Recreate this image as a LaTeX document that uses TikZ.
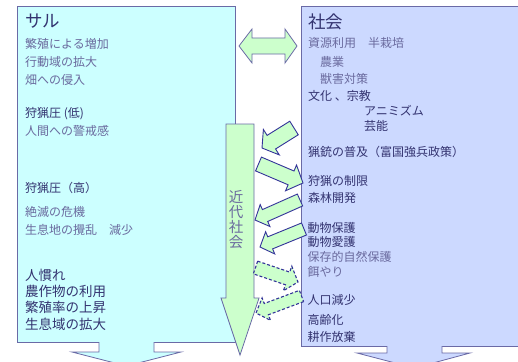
\documentclass[tikz,border=0pt]{standalone}
\usepackage{fontspec}
\setmainfont{Noto Sans CJK JP}
\usetikzlibrary{calc}
\definecolor{cyanfill}{HTML}{CCFFFF}
\definecolor{lavfill}{HTML}{CCD9FF}
\definecolor{greenfill}{HTML}{CCFFCC}
\definecolor{boxline}{HTML}{6A6AA6}
\definecolor{arrline}{HTML}{333399}
\definecolor{darktxt}{HTML}{333370}
\definecolor{lighttxt}{HTML}{6A6A9E}
\newcommand{\blockarr}[6]{%
  \coordinate (ba-b) at ($(#3)!#6!(#2)$);
  \draw[#1] ($(#2)!#4!90:(#3)$) -- ($(ba-b)!#4!90:(#3)$) -- ($(ba-b)!#5!90:(#3)$) -- (#3)
     -- ($(ba-b)!#5!-90:(#3)$) -- ($(ba-b)!#4!-90:(#3)$) -- ($(#2)!#4!-90:(#3)$) -- cycle;
}
\tikzset{
  txtbase/.style={anchor=base west, inner sep=0pt, font=\fontsize{12}{14}\selectfont},
  txtdark/.style={txtbase, text=darktxt},
  txtlight/.style={txtbase, text=lighttxt},
  txtbig/.style={txtbase, text=darktxt, font=\fontsize{17.5}{20}\selectfont},
  txtbigger/.style={txtbase, text=darktxt, font=\fontsize{13.5}{16}\selectfont},
  boxs/.style={draw=boxline, line width=0.8pt, anchor=north west, inner sep=0pt},
  vertarr/.style={fill=greenfill, draw=boxline, line width=0.8pt, line join=miter},
  greenarr/.style={fill=greenfill, draw=arrline, line width=0.9pt, line join=miter},
  dasharr/.style={greenarr, line width=1.1pt, dash pattern=on 3pt off 2pt},
}
\begin{document}
\begin{tikzpicture}[x=1pt,y=-1pt]
\useasboundingbox (0,0) rectangle (518,361);
\clip (0,0) rectangle (518,361);
\fill[white] (0,0) rectangle (518,361);
% boxes
\node[boxs, fill=cyanfill, minimum width=218pt, minimum height=336pt] (saru) at (17,6) {};
\node[boxs, fill=lavfill, minimum width=240pt, minimum height=340pt] (shakai) at (301,6) {};
% bottom arrows
\fill[cyanfill] (99,341) -- (99,352) -- (72,352) -- (126.5,366) -- (181,352) -- (154,352) -- (154,341) -- cycle;
\draw[boxline, line width=0.8pt] (99,342) -- (99,352) -- (72,352) -- (126.5,366) -- (181,352) -- (154,352) -- (154,342);
\fill[lavfill] (387,345) -- (387,353) -- (357,353) -- (414.5,368) -- (470,353) -- (442,353) -- (442,345) -- cycle;
\draw[boxline, line width=0.8pt] (387,346) -- (387,353) -- (357,353) -- (414.5,368) -- (470,353) -- (442,353) -- (442,346);
% vertical arrow
\coordinate (vt) at (240,124);
\coordinate (vp) at (240,355);
\blockarr{vertarr}{vt}{vp}{14pt}{19pt}{57pt}
\node[inner sep=0pt, align=center, text=lighttxt, font=\fontsize{14.5}{15}\selectfont] (kindai) at (236,220) {近\\代\\社\\会};
% double arrow
\draw[vertarr] (239,46) -- (252,29) -- (252,38) -- (285,38) -- (285,29) -- (297,46)
  -- (285,63) -- (285,54) -- (252,54) -- (252,63) -- cycle;
% small arrows
\coordinate (a1t) at (294,128);   \coordinate (a1p) at (262,148);
\coordinate (a2t) at (258.5,164); \coordinate (a2p) at (303,183);
\coordinate (a3t) at (300,200);   \coordinate (a3p) at (255,220);
\coordinate (a4t) at (304,229);   \coordinate (a4p) at (260,247);
\coordinate (a5t) at (255.5,267.5); \coordinate (a5p) at (298,282);
\coordinate (a6t) at (301.5,296); \coordinate (a6p) at (256,313);
\blockarr{greenarr}{a1t}{a1p}{8pt}{15pt}{11pt}
\blockarr{greenarr}{a2t}{a2p}{7.5pt}{14pt}{13pt}
\blockarr{greenarr}{a3t}{a3p}{6.5pt}{12pt}{11pt}
\blockarr{greenarr}{a4t}{a4p}{6.5pt}{12pt}{11pt}
\blockarr{dasharr}{a5t}{a5p}{6.7pt}{13pt}{11pt}
\blockarr{dasharr}{a6t}{a6p}{6pt}{12pt}{11pt}
% left texts
\node[txtbig] (l0) at (25,28) {サル};
\node[txtlight] (l1) at (25,48.5) {繁殖による増加};
\node[txtlight] (l2) at (25,66.5) {行動域の拡大};
\node[txtlight] (l3) at (25,84.5) {畑への侵入};
\node[txtdark] (l4) at (25,117.5) {狩猟圧 (低)};
\node[txtlight] (l5) at (25,135.5) {人間への警戒感};
\node[txtdark] (l6) at (25,192.5) {狩猟圧（高）};
\node[txtlight] (l7) at (25,216.5) {絶滅の危機};
\node[txtlight] (l8) at (25,234.5) {生息地の攪乱　減少};
\node[txtbigger] (l9) at (25,280) {人慣れ};
\node[txtbigger] (l10) at (25,296) {農作物の利用};
\node[txtbigger] (l11) at (25,312) {繁殖率の上昇};
\node[txtbigger] (l12) at (25,329) {生息域の拡大};
% right texts
\node[txtbig] (r0) at (308,29) {社会};
\node[txtlight] (r1) at (308,47.5) {資源利用　半栽培};
\node[txtlight] (r2) at (320,66.5) {農業};
\node[txtlight] (r3) at (320,83.5) {獣害対策};
\node[txtdark] (r4) at (308,100.5) {文化 、宗教};
\node[txtdark] (r5) at (364,115.5) {アニミズム};
\node[txtdark] (r6) at (364,130.5) {芸能};
\node[txtdark] (r7) at (308,156.5) {猟銃の普及（富国強兵政策）};
\node[txtdark] (r8) at (308,185.5) {狩猟の制限};
\node[txtdark] (r9) at (308,202.5) {森林開発};
\node[txtdark] (r10) at (307.5,232.5) {動物保護};
\node[txtdark] (r11) at (307.5,246.5) {動物愛護};
\node[txtlight] (r12) at (307.5,261.5) {保存的自然保護};
\node[txtlight] (r13) at (307.5,276.5) {餌やり};
\node[txtdark] (r14) at (307.5,304.5) {人口減少};
\node[txtdark] (r15) at (307.5,324.5) {高齢化};
\node[txtdark] (r16) at (307.5,341.5) {耕作放棄};
\end{tikzpicture}
\end{document}
